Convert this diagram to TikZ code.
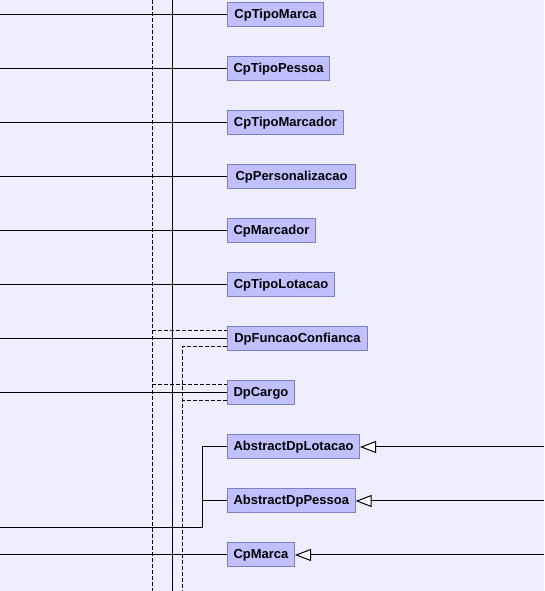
\documentclass[tikz,border=0pt]{standalone}
\usepackage{fontspec}
\setmainfont{Liberation Sans}
\usetikzlibrary{arrows.meta}
\definecolor{bgc}{RGB}{238,238,255}
\definecolor{boxfill}{RGB}{192,192,255}
\definecolor{boxline}{RGB}{128,128,192}
\tikzset{
  cls/.style={draw=boxline, fill=boxfill, line width=1pt, anchor=west, minimum height=24pt,
    inner xsep=6pt, inner ysep=0pt, font=\fontsize{13pt}{15pt}\selectfont\bfseries, text=black},
  conn/.style={line width=1pt, draw=black},
  dsh/.style={line width=1pt, draw=black, dash pattern=on 4pt off 2pt},
  gen/.style={conn, -{Triangle[open, length=16pt, width=12pt, fill=white]}}
}
\begin{document}
\begin{tikzpicture}[x=1pt,y=1pt]
\fill[bgc] (0,0) rectangle (544,591);
\useasboundingbox (0,0) rectangle (544,591);
% vertical buses
\coordinate (d1t) at (152,591); \coordinate (d1b) at (152,0);
\coordinate (s1t) at (172,591); \coordinate (s1b) at (172,0);
\coordinate (d2b) at (182,0);
\draw[dsh] (d1t) -- (d1b);
\draw[conn] (s1t) -- (s1b);
% nodes
\node[cls, minimum width=96pt]  (tm)  at (227,576) {CpTipoMarca};
\node[cls, minimum width=102pt] (tp)  at (227,522) {CpTipoPessoa};
\node[cls, minimum width=116pt] (tmr) at (227,468) {CpTipoMarcador};
\node[cls, minimum width=128pt] (pe)  at (227,414) {CpPersonalizacao};
\node[cls, minimum width=86pt]  (ma)  at (227,360) {CpMarcador};
\node[cls, minimum width=107pt] (tl)  at (227,306) {CpTipoLotacao};
\node[cls, minimum width=140pt] (fc)  at (227,252) {DpFuncaoConfianca};
\node[cls, minimum width=66pt]  (ca)  at (227,198) {DpCargo};
\node[cls, minimum width=132pt] (al)  at (227,144) {AbstractDpLotacao};
\node[cls, minimum width=125pt] (ap)  at (227,90)  {AbstractDpPessoa};
\node[cls, minimum width=67pt]  (cm)  at (227,36)  {CpMarca};
% left free ends
\foreach \n/\yy in {tm/576,tp/522,tmr/468,pe/414,ma/360,tl/306,fc/252,ca/198,cm/36}{
  \coordinate (L\n) at (0,\yy);
  \draw[conn] (L\n) -- (\n.west);
}
% dashed branches
\coordinate (fcu) at (152,260);
\coordinate (cau) at (152,206);
\draw[dsh] (fcu) -- ([yshift=8pt]fc.west);
\draw[dsh] (cau) -- ([yshift=8pt]ca.west);
\draw[dsh] ([yshift=-8pt]fc.west) -| (d2b);
\draw[dsh] ([yshift=-8pt]ca.west) -- ++(-45pt,0);
% abstract bus
\coordinate (bend) at (202,63);
\coordinate (lb) at (0,63);
\draw[conn] (al.west) -| (bend) -- (lb);
\draw[conn] (ap.west) -- (ap.west -| bend);
% generalizations
\coordinate (ral) at (544,144);
\coordinate (rap) at (544,90);
\coordinate (rcm) at (544,36);
\draw[gen] (ral) -- (al.east);
\draw[gen] (rap) -- (ap.east);
\draw[gen] (rcm) -- (cm.east);
\end{tikzpicture}
\end{document}
